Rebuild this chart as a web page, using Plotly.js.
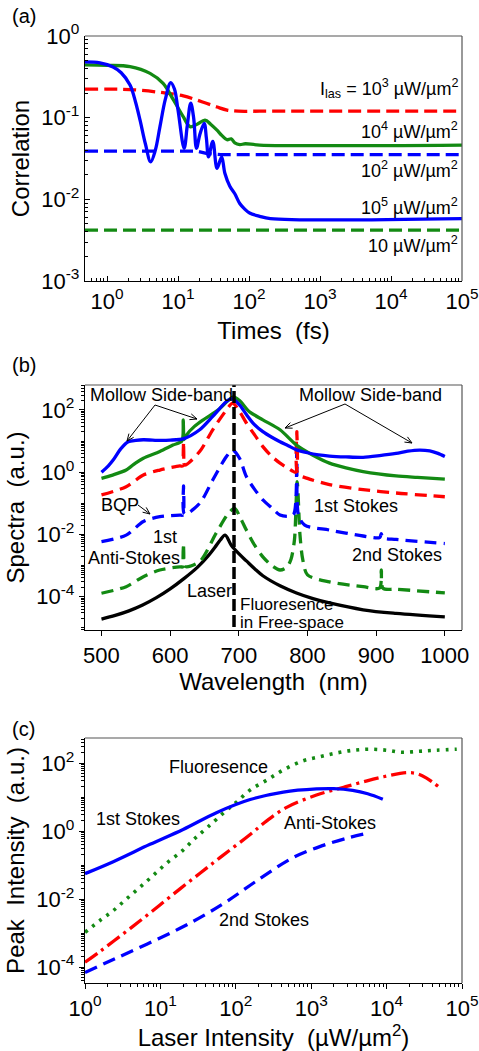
<!DOCTYPE html>
<html>
<head>
<meta charset="utf-8">
<script src="https://cdn.plot.ly/plotly-3.0.1.min.js"></script>
<style>html,body{margin:0;padding:0;background:#fff;}#chart{width:479px;height:1051px;}</style>
</head>
<body>
<div id="chart"></div>
<script>
// ---------- Panel (a): correlation vs time ----------
const a_t_1e5 = [0.49,0.794,1.216,1.585,2.11,2.51,2.92,3.47,4.12,4.79,5.57,6.61,7.89,8.91,10,12.2,13.5,15.1,16.6,18.2,20.4,23.4,25.1,26.9,30.9,35.5,41.2,45.7,53.7,63.1,74.1,87.1,102,141,200,100000];
const a_c_1e5 = [0.481,0.468,0.418,0.355,0.251,0.158,0.0933,0.0479,0.0288,0.0398,0.0776,0.166,0.269,0.224,0.124,0.0422,0.0794,0.151,0.1,0.0422,0.0631,0.0851,0.0562,0.0331,0.0513,0.024,0.0331,0.0209,0.0145,0.0117,0.0089,0.0076,0.0068,0.0062,0.0058,0.0058];
const a_t_1e4 = [0.49,1,2.11,4.04,6.17,8.59,11.9,14.8,18.6,24,28.8,35.1,41.7,49,56.2,63.1,74.1,89.1,141,100000];
const a_c_1e4 = [0.442,0.437,0.422,0.349,0.263,0.166,0.102,0.0776,0.0832,0.0933,0.0832,0.0708,0.0603,0.0537,0.055,0.049,0.0468,0.0479,0.0462,0.0462];
const a_t_1e3 = [0.49,2.11,6.17,11.9,17.8,25.1,35.5,49,70.8,141,100000];
const a_c_1e3 = [0.223,0.221,0.202,0.185,0.166,0.15,0.135,0.124,0.12,0.12,0.12];
const a_t_1e2 = [0.49,18.2,25,40,100000];
const a_c_1e2 = [0.0389,0.0389,0.0365,0.0352,0.0352];
const a_t_1e1 = [0.49,100000];
const a_c_1e1 = [0.0042,0.0042];

// ---------- Panel (b): spectra vs wavelength ----------
const b_wl_blue = [500,510,517,528,539,550,561,585,600,620,643,662,682,690,701,711,722,735,748,760,772,784,800,816,832,856,881,905,929,946,963,978,990,1000];
const b_sp_blue = [1.0,1.6,2.45,5.6,9.5,10.5,11,10.5,10.7,12,23,62,186,229,145,71,35,20,13.2,9.5,7.1,5.2,4.2,3.6,3.3,3.1,3.0,3.4,4.0,4.7,5.1,4.8,4.0,3.2];
const b_wl_green = [500,515,536,550,561,585,604,617,619,620.5,624,635,650,670,692,701,715,735,760,784,808,832,856,881,929,960,1000];
const b_sp_green = [0.63,0.79,1.17,2.0,2.8,4.6,7.4,10,48,11.2,15.8,29,51,100,263,200,89,48,23,7.4,3.5,1.95,1.38,1.05,0.76,0.68,0.6];
const b_wl_red = [500,536,561,585,614,618.5,619.5,621,643,662,682,691,701,711,723,735,748,760,772,783,784.5,786,800,832,881,929,1000];
const b_sp_red = [0.186,0.34,0.81,1.17,1.58,1.6,9.5,1.7,4.6,23,100,166,89,38,15.8,6.6,3.2,1.95,1.32,1.0,20,0.89,0.63,0.4,0.275,0.214,0.162];
const b_wl_bdash = [500,536,561,585,614,618.5,619.5,621,643,662,682,691,701,711,723,735,748,760,772,780,784.5,787,796,832,881,905,907.5,910,929,1000];
const b_sp_bdash = [0.0059,0.0095,0.026,0.037,0.042,0.042,0.36,0.045,0.1,0.56,3.2,5.1,2.8,0.72,0.28,0.129,0.071,0.042,0.038,0.045,4.6,0.04,0.02,0.0138,0.0089,0.0079,0.0105,0.0078,0.0069,0.0051];
const b_wl_gdash = [500,536,561,585,614,618.5,619.5,621,643,667,685,694,702,711,723,735,748,760,770,776,781,785,789,793,800,832,881,905,907.5,910,929,1000];
const b_sp_gdash = [1.29e-4,2.1e-4,4.4e-4,7.2e-4,9.1e-4,9.1e-4,5.2e-3,9.5e-4,1.35e-3,0.011,0.048,0.069,0.035,0.0138,0.0045,0.0019,0.001,7.2e-4,8.9e-4,1.6e-3,6.6e-3,0.5,0.01,1.6e-3,5e-4,3e-4,2.1e-4,1.9e-4,7.2e-4,1.86e-4,1.74e-4,1.32e-4];
const b_wl_laser = [500,520,540,560,580,600,620,640,655,665,673,680,689,700,711,723,735,760,784,808,832,881,929,1000];
const b_sp_laser = [1.9e-5,2.5e-5,3.5e-5,5.4e-5,9.3e-5,1.78e-4,3.8e-4,8.9e-4,2.0e-3,3.8e-3,6.6e-3,9.5e-3,4.5e-3,2.4e-3,1.41e-3,7.9e-4,4.7e-4,2.24e-4,1.32e-4,8.7e-5,6.3e-5,3.8e-5,2.9e-5,2.24e-5];
const b_free_wl = [693,693];
const b_free_sp = [1e-6,1e4];

// ---------- Panel (c): peak intensity vs laser intensity ----------
const c_I_stokes1 = [1,2.37,7.28,20,56.2,155,427,1175,2000,3550,5620,8910];
const c_P_stokes1 = [0.056,0.126,0.407,1.12,3.55,8.5,14.1,17.4,17.8,15.8,12.6,8.7];
const c_I_fluo = [1,1.58,2.37,3.57,5.37,8.05,12.6,20,28.8,42.7,75.9,102,155,257,427,776,1318,2188,3631,6026,10000,15850,27540,45710,85110];
const c_P_fluo = [0.00105,0.00234,0.00457,0.0102,0.0224,0.05,0.123,0.275,0.617,1.32,4.17,7.08,16.2,31.6,63,117,155,200,240,257,240,209,224,240,257];
const c_I_anti = [1,1.58,2.88,5.37,9.77,18.2,33.5,61.7,155,257,473,1175,2692,5495,9120,15140,20420,26300,33880,50120];
const c_P_anti = [1.38e-4,2.88e-4,7.9e-4,2.29e-3,6.6e-3,0.02,0.0575,0.166,0.794,2.0,5.0,11.5,19.5,30.2,39.8,50.1,52.5,47.9,36.3,19.5];
const c_I_stokes2 = [1,2.37,6.6,18.2,39.8,75.9,190.5,575,1445,2951,4898];
const c_P_stokes2 = [6.9e-5,1.66e-4,4.7e-4,1.38e-3,3.55e-3,8.5e-3,0.0347,0.166,0.38,0.617,0.813];

// ---------- tick labels ----------
const a_xticks = [1,10,100,1000,10000,100000];
const a_xlabels = ['10<sup>0</sup>','10<sup>1</sup>','10<sup>2</sup>','10<sup>3</sup>','10<sup>4</sup>','10<sup>5</sup>'];
const a_yticks = [0.001,0.01,0.1,1];
const a_ylabels = ['10<sup>-3</sup>','10<sup>-2</sup>','10<sup>-1</sup>','10<sup>0</sup>'];
const b_xticks = [500,600,700,800,900,1000];
const b_xlabels = ['500','600','700','800','900','1000'];
const b_yticks = [1e-4,1e-2,1,100];
const b_ylabels = ['10<sup>-4</sup>','10<sup>-2</sup>','10<sup>0</sup>','10<sup>2</sup>'];
const c_xticks = [1,10,100,1000,10000,100000];
const c_xlabels = ['10<sup>0</sup>','10<sup>1</sup>','10<sup>2</sup>','10<sup>3</sup>','10<sup>4</sup>','10<sup>5</sup>'];
const c_yticks = [1e-4,1e-2,1,100];
const c_ylabels = ['10<sup>-4</sup>','10<sup>-2</sup>','10<sup>0</sup>','10<sup>2</sup>'];

const RED = '#ff0000', BLUE = '#0000ff', GREEN = '#138a13', BLACK = '#000000';
const FONT = 'Arial, "Liberation Sans", Arimo, sans-serif';
const W = 479, H = 1051;

function line(x, y, color, dash, xa, ya, shape, width, smooth) {
  return {x: x, y: y, xaxis: xa, yaxis: ya, type: 'scatter', mode: 'lines',
    line: {color: color, width: width || 3.3, dash: dash || 'solid', shape: shape || 'spline',
           smoothing: (smooth === undefined ? 0.8 : smooth)},
    hoverinfo: 'skip', showlegend: false};
}

const traces = [
  line(a_t_1e1, a_c_1e1, GREEN, '13px,6px', 'x', 'y', 'linear'),
  line(a_t_1e2, a_c_1e2, BLUE, '13px,6px', 'x', 'y', 'linear'),
  line(a_t_1e3, a_c_1e3, RED, '13px,6px', 'x', 'y', 'spline', 3.3, 1),
  line(a_t_1e4, a_c_1e4, GREEN, 'solid', 'x', 'y', 'spline', 3.3, 1),
  line(a_t_1e5, a_c_1e5, BLUE, 'solid', 'x', 'y', 'spline', 3.3, 1),

  line(b_wl_laser, b_sp_laser, BLACK, 'solid', 'x2', 'y2', 'spline', 3.3, 1),
  line(b_wl_gdash, b_sp_gdash, GREEN, '12px,7px', 'x2', 'y2'),
  line(b_wl_bdash, b_sp_bdash, BLUE, '12px,7px', 'x2', 'y2'),
  line(b_wl_red, b_sp_red, RED, '12px,7px', 'x2', 'y2'),
  line(b_wl_green, b_sp_green, GREEN, 'solid', 'x2', 'y2'),
  line(b_wl_blue, b_sp_blue, BLUE, 'solid', 'x2', 'y2'),
  line(b_free_wl, b_free_sp, BLACK, '12px,4px', 'x2', 'y2', 'linear', 3.5),

  line(c_I_stokes2, c_P_stokes2, BLUE, '13px,7px', 'x3', 'y3', 'spline', 3.3, 1),
  line(c_I_anti, c_P_anti, RED, '15px,5px,3px,5px', 'x3', 'y3', 'spline', 3.3, 1),
  line(c_I_fluo, c_P_fluo, GREEN, '3px,6px', 'x3', 'y3', 'spline', 3.6, 1),
  line(c_I_stokes1, c_P_stokes1, BLUE, 'solid', 'x3', 'y3', 'spline', 3.3, 1)
];

const XD = [85/W, 462/W];
function yd(top, bot) { return [1 - bot/H, 1 - top/H]; }

function axis(o) {
  const base = {
    showline: true, linecolor: '#000', linewidth: 1.2, mirror: false,
    showgrid: false, zeroline: false, ticks: o.ticks, ticklen: 5, tickwidth: 1, tickcolor: '#000',
    tickfont: {family: FONT, size: 22, color: '#000'},
    automargin: false, fixedrange: true
  };
  return Object.assign(base, o.extra);
}
function minor(ticks) { return {ticks: ticks, ticklen: 3, tickcolor: '#000', tickwidth: 1, dtick: 'D1', showgrid: false}; }

const TF = {family: FONT, size: 24, color: '#000'};

const layout = {
  width: W, height: H, margin: {l: 0, r: 0, t: 0, b: 0},
  paper_bgcolor: '#fff', plot_bgcolor: '#fff', showlegend: false,
  font: {family: FONT, color: '#000'},
  xaxis: axis({ticks: 'inside', extra: {domain: XD, anchor: 'y', type: 'log', range: [-0.31, 5],
    tickmode: 'array', tickvals: a_xticks, ticktext: a_xlabels, minor: minor('inside'),
    title: {text: 'Times\u00a0\u00a0(fs)', font: TF, standoff: 9}}}),
  yaxis: axis({ticks: 'inside', extra: {domain: yd(36, 281), anchor: 'x', type: 'log', range: [-3, 0],
    tickmode: 'array', tickvals: a_yticks, ticktext: a_ylabels, minor: minor('inside'),
    title: {text: 'Correlation', font: TF, standoff: 4}}}),
  xaxis2: axis({ticks: 'outside', extra: {domain: XD, anchor: 'y2', type: 'linear', range: [476, 1025],
    tickmode: 'array', tickvals: b_xticks, ticktext: b_xlabels,
    title: {text: 'Wavelength\u00a0\u00a0(nm)', font: TF, standoff: 6}}}),
  yaxis2: axis({ticks: 'outside', extra: {domain: yd(385, 630), anchor: 'x2', type: 'log', range: [-5.07, 2.8],
    tickmode: 'array', tickvals: b_yticks, ticktext: b_ylabels, minor: minor('outside'),
    title: {text: 'Spectra\u00a0\u00a0(a.u.)', font: TF, standoff: 4}}}),
  xaxis3: axis({ticks: 'outside', extra: {domain: XD, anchor: 'y3', type: 'log', range: [0, 5],
    tickmode: 'array', tickvals: c_xticks, ticktext: c_xlabels, minor: minor('outside'),
    title: {text: 'Laser Intensity\u00a0\u00a0(µW/µm<sup>2</sup>)', font: TF, standoff: 8}}}),
  yaxis3: axis({ticks: 'outside', extra: {domain: yd(738, 983), anchor: 'x3', type: 'log', range: [-4.47, 2.74],
    tickmode: 'array', tickvals: c_yticks, ticktext: c_ylabels, minor: minor('outside'),
    title: {text: 'Peak\u00a0\u00a0Intensity\u00a0\u00a0(a.u.)', font: TF, standoff: 4}}}),
  shapes: [],
  annotations: []
};

// frame (top and right edges) for each panel
[['x','y'],['x2','y2'],['x3','y3']].forEach(function(p) {
  layout.shapes.push({type: 'line', xref: p[0] + ' domain', yref: p[1] + ' domain', x0: 0, x1: 1, y0: 1, y1: 1, line: {color: '#555', width: 1.2}});
  layout.shapes.push({type: 'line', xref: p[0] + ' domain', yref: p[1] + ' domain', x0: 1, x1: 1, y0: 0, y1: 1, line: {color: '#555', width: 1.2}});
});

// arrows drawn as shapes (line + small head) in page pixel coordinates
function P(px, py) { return [px / W, 1 - py / H]; }
function arrow(tx, ty, hx, hy) {
  const a = P(tx, ty), b = P(hx, hy);
  layout.shapes.push({type: 'line', xref: 'paper', yref: 'paper', x0: a[0], y0: a[1], x1: b[0], y1: b[1], line: {color: '#000', width: 1}});
  const dx = hx - tx, dy = hy - ty, L = Math.sqrt(dx*dx + dy*dy), ux = dx / L, uy = dy / L;
  const s = 7, w = 3;
  const p1 = [hx - ux*s - uy*w, hy - uy*s + ux*w], p2 = [hx - ux*s + uy*w, hy - uy*s - ux*w];
  const q1 = P(p1[0], p1[1]), q2 = P(p2[0], p2[1]);
  layout.shapes.push({type: 'line', xref: 'paper', yref: 'paper', x0: q1[0], y0: q1[1], x1: b[0], y1: b[1], line: {color: '#000', width: 1}});
  layout.shapes.push({type: 'line', xref: 'paper', yref: 'paper', x0: q2[0], y0: q2[1], x1: b[0], y1: b[1], line: {color: '#000', width: 1}});
}

// text annotations positioned in pixel coordinates of the page
function txt(s, px, py, anchor, size) {
  layout.annotations.push({text: s, xref: 'paper', yref: 'paper', x: px / W, y: 1 - py / H,
    xanchor: anchor || 'center', yanchor: 'middle', showarrow: false,
    font: {family: FONT, size: size || 18, color: '#000'}});
}

txt('(a)', 10, 16, 'left', 20);
txt('(b)', 10, 365, 'left', 20);
txt('(c)', 10, 729, 'left', 20);

// panel (a) labels
txt('I<sub>las</sub> = 10<sup>3</sup> µW/µm<sup>2</sup>', 460, 89, 'right');
txt('10<sup>4</sup> µW/µm<sup>2</sup>', 460, 130, 'right');
txt('10<sup>2</sup> µW/µm<sup>2</sup>', 460, 169, 'right');
txt('10<sup>5</sup> µW/µm<sup>2</sup>', 460, 206, 'right');
txt('10 µW/µm<sup>2</sup>', 460, 245, 'right');

// panel (b) labels
txt('Mollow Side-band', 88, 395, 'left');
txt('Mollow Side-band', 297, 395, 'left');
arrow(155, 405, 127, 441);
arrow(155, 405, 197, 419);
arrow(345, 404, 285, 428);
arrow(345, 404, 412, 443);
txt('BQP', 120, 505, 'center');
arrow(138, 505, 150, 514);
txt('1st', 165, 537, 'center');
txt('Anti-Stokes', 134, 558, 'center');
txt('Laser', 209, 591, 'center');
txt('Fluoresence', 238, 604, 'left', 17);
txt('in Free-space', 238, 622, 'left', 17);
txt('1st Stokes', 356, 506, 'center');
txt('2nd Stokes', 397, 555, 'center');

// panel (c) labels
txt('Fluoresence', 218, 767, 'center');
txt('1st Stokes', 138, 819, 'center');
txt('Anti-Stokes', 330, 823, 'center');
txt('2nd Stokes', 264, 920, 'center');

Plotly.newPlot('chart', traces, layout, {staticPlot: true, displayModeBar: false});
</script>
</body>
</html>
